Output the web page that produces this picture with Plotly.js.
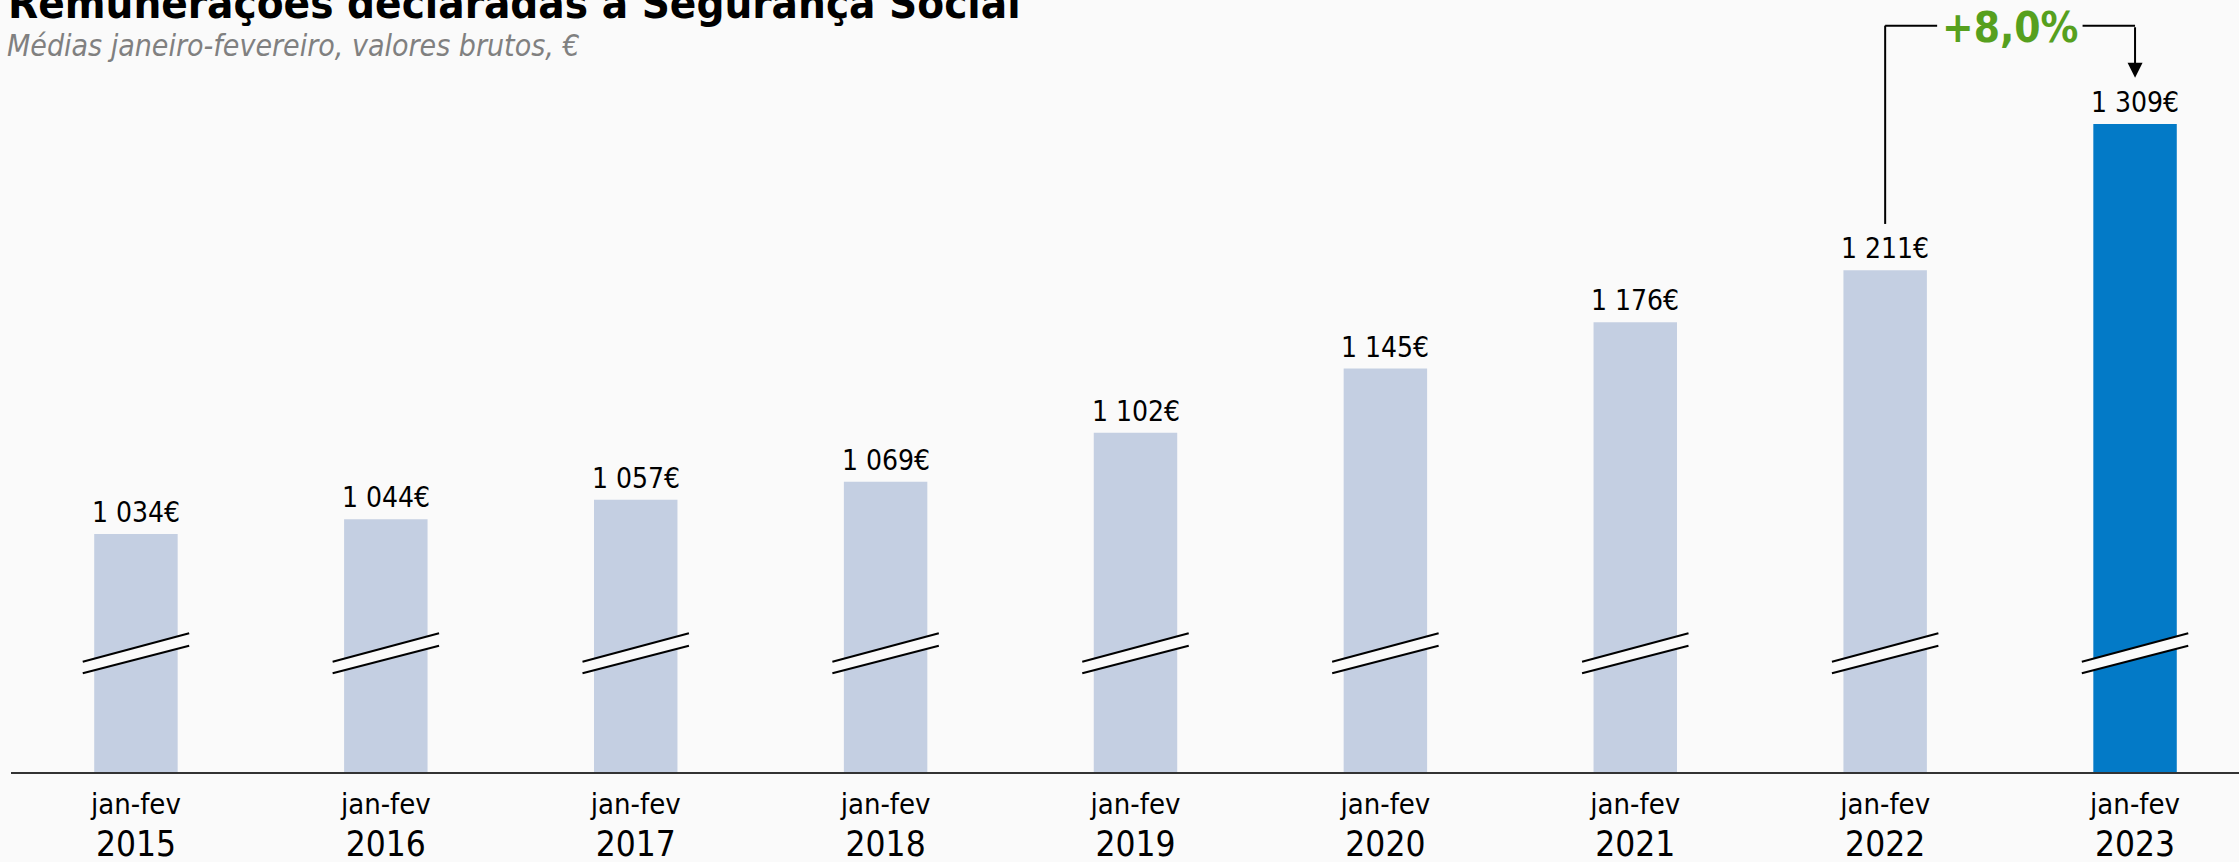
<!DOCTYPE html>
<html>
<head>
<meta charset="utf-8">
<script src="https://cdn.plot.ly/plotly-3.0.1.min.js"></script>
<style>
  html, body { margin: 0; padding: 0; background: #fafafa; }
  #chart { width: 2239px; height: 862px; }
</style>
</head>
<body>
<div id="chart"></div>
<script>
// ---- data ----
const periodLabel = 'jan-fev';
const years = ['2015', '2016', '2017', '2018', '2019', '2020', '2021', '2022', '2023'];
const values = [1034, 1044, 1057, 1069, 1102, 1145, 1176, 1211, 1309];
const growthLabel = '+8,0%';
const titleText = 'Remunerações declaradas à Segurança Social';
const subtitleText = 'Médias janeiro-fevereiro, valores brutos, €';

// ---- style ----
const FONT = '"DejaVu Sans Condensed", "DejaVu Sans", sans-serif';
const BG = '#fafafa';
const LIGHT = '#c4cfe2';
const BLUE = '#037ac7';
const GREEN = '#56a01e';
const Y_MIN = 874.4, Y_MAX = 1392.2;

const idx = years.map((_, i) => i);
const fmt = v => String(v).replace(/\B(?=(\d{3})+(?!\d))/g, ' ') + '€';
const last = values.length - 1;

const trace = {
  type: 'bar',
  x: idx,
  y: values,
  width: 0.334,
  marker: { color: values.map((v, i) => i === last ? BLUE : LIGHT), line: { width: 0 } },
  hoverinfo: 'skip',
  cliponaxis: true
};

const annotations = [];
values.forEach((v, i) => {
  annotations.push({
    x: i, y: v, xref: 'x', yref: 'y', text: fmt(v), showarrow: false,
    yanchor: 'bottom', xanchor: 'center', yshift: 3,
    font: { family: FONT, size: 28, color: '#000' }
  });
});

// subtitle
annotations.push({
  xref: 'paper', yref: 'paper', x: -0.0027, y: 0.941, xanchor: 'left', yanchor: 'middle',
  text: '<i>' + subtitleText + '</i>', showarrow: false,
  font: { family: FONT, size: 30, color: '#808080' }
});

// growth connector
const prev = last - 1;
const offs = 33;          // gap above value labels (data units)
const topY = 1375;        // level of horizontal connector
annotations.push({
  x: (prev + last) / 2, y: topY, xref: 'x', yref: 'y', text: '<b>' + growthLabel + '</b>',
  showarrow: false, xanchor: 'center', yanchor: 'middle', yshift: -2,
  font: { family: FONT, size: 42, color: GREEN }
});
annotations.push({
  x: last, y: values[last] + offs - 2, xref: 'x', yref: 'y',
  ax: last, ay: topY, axref: 'x', ayref: 'y', text: '',
  showarrow: true, arrowhead: 2, arrowsize: 1.5, arrowwidth: 2, arrowcolor: '#000', standoff: 0
});

const shapes = [];
shapes.push({ type: 'line', xref: 'x', yref: 'y', x0: prev, x1: prev, y0: values[prev] + offs - 2, y1: topY, line: { color: '#000', width: 2 } });
shapes.push({ type: 'line', xref: 'x', yref: 'y', x0: prev, x1: prev + 0.208, y0: topY, y1: topY, line: { color: '#000', width: 2 } });
shapes.push({ type: 'line', xref: 'x', yref: 'y', x0: last - 0.21, x1: last, y0: topY, y1: topY, line: { color: '#000', width: 2 } });

// axis-break marks on every bar
const hw = 0.213;
const uL = 948.4, uR = 967.4, lL = 940.6, lR = 959.1;
idx.forEach(i => {
  const x0 = i - hw, x1 = i + hw;
  shapes.push({
    type: 'path', xref: 'x', yref: 'y',
    path: `M ${x0},${uL} L ${x1},${uR} L ${x1},${lR} L ${x0},${lL} Z`,
    fillcolor: BG, line: { width: 0 }
  });
  shapes.push({ type: 'line', xref: 'x', yref: 'y', x0: x0, x1: x1, y0: uL, y1: uR, line: { color: '#000', width: 2 } });
  shapes.push({ type: 'line', xref: 'x', yref: 'y', x0: x0, x1: x1, y0: lL, y1: lR, line: { color: '#000', width: 2 } });
});

const layout = {
  width: 2239, height: 862,
  paper_bgcolor: BG, plot_bgcolor: BG,
  margin: { l: 11, r: 0, t: 0, b: 90, pad: 0 },
  showlegend: false,
  title: {
    text: '<b>' + titleText + '</b>',
    xref: 'container', yref: 'container', x: 0.0036, xanchor: 'left',
    y: 1 - 17.5 / 862, yanchor: 'bottom',
    font: { family: FONT, size: 43.5, color: '#000' }
  },
  xaxis: {
    type: 'linear', range: [-0.5, 8.416], fixedrange: true,
    tickvals: idx,
    ticktext: years.map(y => `<span style="font-size:29px">${periodLabel}</span><br><span style="font-size:35px">${y}</span>`),
    tickfont: { family: FONT, size: 32, color: '#000' },
    ticks: 'outside', ticklen: 2, tickcolor: 'rgba(0,0,0,0)',
    showline: true, linecolor: '#333', linewidth: 2,
    showgrid: false, zeroline: false
  },
  yaxis: {
    range: [Y_MIN, Y_MAX], visible: false, showgrid: false, zeroline: false, fixedrange: true
  },
  annotations: annotations,
  shapes: shapes
};

Plotly.newPlot('chart', [trace], layout, { displayModeBar: false, staticPlot: true });
</script>
</body>
</html>
